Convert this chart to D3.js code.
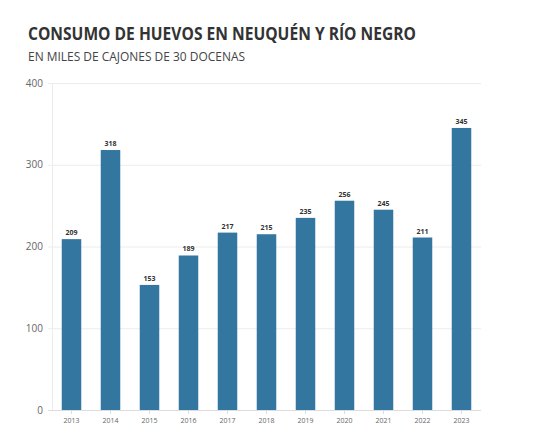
<!DOCTYPE html>
<html><head><meta charset="utf-8">
<script src="https://cdn.jsdelivr.net/npm/d3@7"></script>
<style>body{margin:0;background:#fff}svg{display:block}</style>
</head><body>
<svg id="c" width="547" height="433"></svg>
<script>
const years = ["2013","2014","2015","2016","2017","2018","2019","2020","2021","2022","2023"];
const values = [209,318,153,189,217,215,235,256,245,211,345];
const yTicks = [0,100,200,300,400];
const title = "CONSUMO DE HUEVOS EN NEUQUÉN Y RÍO NEGRO";
const subtitle = "EN MILES DE CAJONES DE 30 DOCENAS";

const svg = d3.select("#c");
const font = "'Source Sans Pro','Open Sans',Lato,sans-serif";
const x = d3.scaleBand().domain(years).range([52,481]).paddingInner(0.5).paddingOuter(0.25);
const y = d3.scaleLinear().domain([0,400]).range([410,83]);

svg.append("text").attr("x",28).attr("y",40).attr("font-family",font).attr("font-weight","bold")
  .attr("font-size",18).attr("fill","#333").attr("textLength",388).attr("lengthAdjust","spacingAndGlyphs").text(title);
svg.append("text").attr("x",28).attr("y",61).attr("font-family",font)
  .attr("font-size",12).attr("fill","#444").attr("textLength",217).attr("lengthAdjust","spacingAndGlyphs").text(subtitle);

// grid
svg.append("g").selectAll("line").data(yTicks).join("line")
  .attr("x1",48).attr("x2",481).attr("y1",d=>y(d)+0.5).attr("y2",d=>y(d)+0.5)
  .attr("stroke",d=>d===0?"#ddd":"#ececec").attr("stroke-width",1);
svg.append("line").attr("x1",52.5).attr("x2",52.5).attr("y1",y(400)).attr("y2",y(0))
  .attr("stroke","#ececec");

svg.append("g").selectAll("text").data(yTicks).join("text")
  .attr("x",43).attr("y",d=>y(d)+3.5).attr("text-anchor","end")
  .attr("font-family",font).attr("font-size",10).attr("fill","#666").text(d=>d);

// bars
svg.append("g").selectAll("rect").data(values).join("rect")
  .attr("x",(d,i)=>x(years[i])).attr("width",x.bandwidth())
  .attr("y",d=>y(d)).attr("height",d=>y(0)-y(d)).attr("fill","#33769f");

svg.append("g").selectAll("text").data(values).join("text")
  .attr("x",(d,i)=>x(years[i])+x.bandwidth()/2).attr("y",d=>y(d)-4)
  .attr("text-anchor","middle").attr("font-family",font).attr("font-weight","bold")
  .attr("font-size",7).attr("fill","#333").text(d=>d);

// x ticks
svg.append("g").selectAll("line").data(years).join("line")
  .attr("x1",d=>x(d)+x.bandwidth()/2).attr("x2",d=>x(d)+x.bandwidth()/2)
  .attr("y1",410).attr("y2",414).attr("stroke","#ddd");
svg.append("g").selectAll("text").data(years).join("text")
  .attr("x",d=>x(d)+x.bandwidth()/2).attr("y",423).attr("text-anchor","middle")
  .attr("font-family",font).attr("font-size",7).attr("fill","#666").text(d=>d);
</script>
</body></html>
